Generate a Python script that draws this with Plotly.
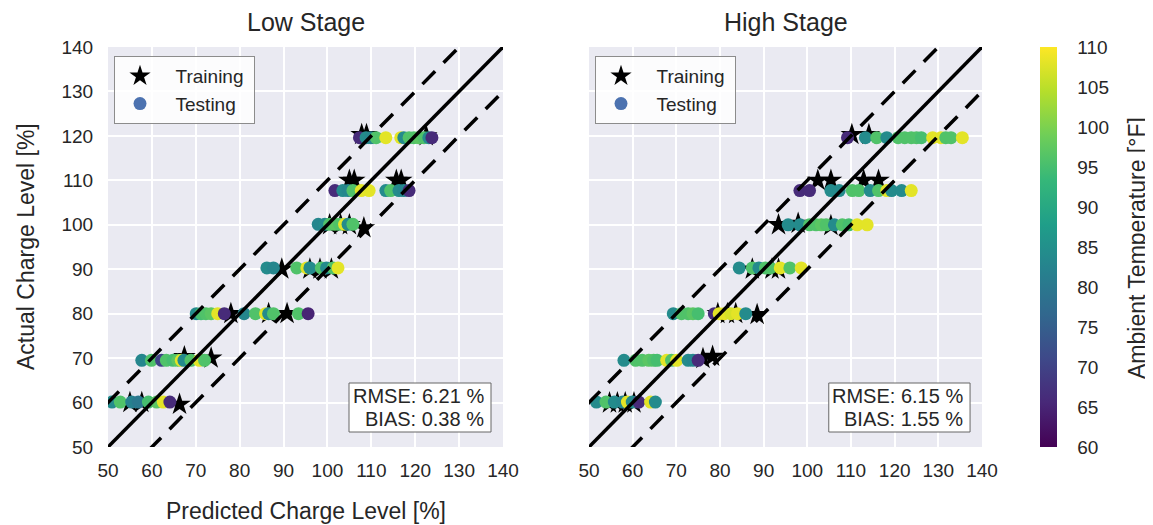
import plotly.graph_objects as go

# ---------------- data ----------------
# Low Stage - training (stars)
lo_train_x = [55.0, 57.7, 66.3, 67.4, 73.5, 78.0, 86.6, 90.8, 89.6, 96.0, 98.3, 100.9,
              100.5, 103.0, 105.0, 108.3, 105.0, 106.1, 115.7, 116.8, 107.8, 108.9, 122.5]
lo_train_y = [60.0, 60.0, 59.6, 70.3, 70.0, 80.0, 80.0, 80.0, 90.0, 90.0, 90.0, 90.0,
              100.0, 100.0, 100.0, 99.3, 110.0, 110.0, 110.0, 110.0, 120.3, 120.3, 120.0]

# Low Stage - testing (circles)
lo_test_x = [50.9, 52.8, 55.4, 56.9, 59.2, 61.1, 62.6, 64.1,
             57.7, 59.9, 62.2, 63.3, 64.8, 65.9, 66.7, 67.3, 68.9, 70.8, 72.0,
             70.1, 71.2, 72.3, 73.5, 75.0, 76.5, 81.0, 83.6, 85.9, 86.6, 87.7, 93.4, 95.6,
             86.2, 87.7, 93.0, 95.3, 96.0, 98.6, 99.8, 101.3, 102.4,
             97.9, 99.4, 100.5, 101.7, 102.8, 103.9, 104.7, 105.8,
             101.7, 103.5, 104.7, 105.8, 107.7, 109.5, 113.3, 114.4, 116.3, 117.4, 118.6,
             107.3, 108.8, 109.9, 111.1, 113.3, 116.7, 117.4, 118.6, 119.7, 120.8, 122.0, 123.1, 123.8]
lo_test_y = [60.1] * 8 + [69.5] * 11 + [80.0] * 13 + [90.3] * 9 + [100.1] * 8 + [107.7] * 11 + [119.6] * 13
lo_test_t = [84, 96, 82, 80, 95, 97, 108, 66,
             83, 96, 70, 96, 95, 97, 108, 84, 96, 108, 96,
             84, 95, 96, 97, 108, 66, 83, 96, 108, 84, 96, 96, 65,
             84, 83, 96, 108, 84, 96, 84, 96, 108,
             83, 84, 96, 97, 96, 108, 84, 96,
             66, 84, 83, 96, 108, 108, 84, 96, 84, 83, 66,
             66, 84, 83, 96, 108, 108, 84, 96, 96, 97, 96, 84, 66]

# High Stage - training (stars)
hi_train_x = [54.7, 56.5, 58.3, 60.3, 76.1, 78.3, 79.5, 81.7, 83.6, 88.5,
              87.4, 91.9, 93.4, 93.4, 97.9, 105.4, 102.4, 105.4, 112.9, 116.3, 110.2, 114.1]
hi_train_y = [59.9, 59.9, 59.9, 59.9, 69.9, 70.4, 80.0, 80.0, 80.0, 79.8,
              90.0, 90.0, 90.0, 100.0, 100.3, 99.8, 110.0, 110.0, 110.0, 110.0, 120.3, 120.3]

# High Stage - testing (circles)
hi_test_x = [51.7, 53.9, 55.8, 57.7, 58.8, 59.9, 61.4, 64.1, 65.2,
             58.0, 60.7, 62.2, 63.7, 64.8, 65.6, 67.8, 68.9, 70.1, 72.7, 73.8, 75.0,
             69.3, 71.2, 72.7, 73.8, 75.0, 78.7, 79.8, 81.0, 82.5, 84.0, 85.9,
             84.4, 87.4, 88.9, 90.4, 91.5, 93.8, 96.0, 98.6,
             95.6, 98.3, 100.5, 102.0, 103.2, 104.3, 106.2, 108.0, 109.5, 111.4, 113.7,
             98.3, 100.5, 105.4, 107.3, 110.3, 111.8, 114.4, 116.3, 118.2, 119.3, 121.6, 123.8,
             109.2, 113.3, 115.9, 118.2, 120.8, 122.3, 123.8, 125.0, 126.1, 128.7, 130.6, 131.7, 132.9, 135.5]
hi_test_y = [60.1] * 9 + [69.5] * 12 + [80.0] * 11 + [90.3] * 8 + [100.0] * 11 + [107.7] * 12 + [119.6] * 14
hi_test_t = [84, 96, 84, 83, 108, 84, 66, 108, 84,
             84, 96, 96, 97, 96, 95, 108, 96, 108, 84, 83, 66,
             84, 96, 96, 97, 95, 66, 108, 108, 107, 108, 84,
             84, 96, 84, 96, 96, 108, 96, 108,
             84, 84, 96, 96, 97, 96, 84, 96, 95, 108, 108,
             66, 66, 84, 84, 96, 96, 84, 96, 108, 84, 84, 108,
             66, 84, 96, 84, 96, 96, 96, 96, 95, 108, 108, 96, 96, 108]

ref_x = [40, 150]
band = 10
axis_range = [50, 140]
tick_vals = [50, 60, 70, 80, 90, 100, 110, 120, 130, 140]
cbar_ticks = [60, 65, 70, 75, 80, 85, 90, 95, 100, 105, 110]
temp_min, temp_max = 60, 110

stats = {"Low Stage": ("6.21", "0.38"), "High Stage": ("6.15", "1.55")}

# ---------------- figure ----------------
OFF = 8  # page body margin
W, H = 1153 - OFF, 525 - OFF
FONT = "Liberation Sans, Arial, sans-serif"
TXT = "#262626"
NB = "\u00a0"

def px_x(p):
    return (p - OFF) / W

def px_y(p):
    return 1 - (p - OFF) / H

fig = go.Figure()

panels = [
    ("Low Stage", "x", "y", "legend", lo_train_x, lo_train_y, lo_test_x, lo_test_y, lo_test_t, True),
    ("High Stage", "x2", "y2", "legend2", hi_train_x, hi_train_y, hi_test_x, hi_test_y, hi_test_t, False),
]

for name, xa, ya, lg, trx, try_, tex, tey, tet, scale in panels:
    fig.add_trace(go.Scatter(
        x=trx, y=try_, mode="markers", name=NB * 2 + "Training" + NB, xaxis=xa, yaxis=ya, legend=lg,
        marker=dict(symbol="star", size=17, color="black", line=dict(width=0)),
    ))
    fig.add_trace(go.Scatter(
        x=tex, y=tey, mode="markers", name="Testing", xaxis=xa, yaxis=ya, showlegend=False,
        marker=dict(symbol="circle", size=13, color=tet, colorscale="Viridis",
                    cmin=temp_min, cmax=temp_max, line=dict(width=0),
                    showscale=scale,
                    colorbar=dict(
                        x=px_x(1040), xanchor="left", xpad=0, ypad=0,
                        y=px_y(247), yanchor="middle",
                        lenmode="pixels", len=400, thickness=17, outlinewidth=0,
                        tickvals=cbar_ticks, ticks="outside", ticklen=17,
                        tickcolor="rgba(0,0,0,0)",
                        tickfont=dict(family=FONT, size=19, color=TXT),
                    ) if scale else None),
    ))
    fig.add_trace(go.Scatter(
        x=[None], y=[None], mode="markers", name=NB * 2 + "Testing", xaxis=xa, yaxis=ya, legend=lg,
        marker=dict(symbol="circle", size=13, color="#4C72B0"),
    ))
    # reference lines
    fig.add_trace(go.Scatter(x=ref_x, y=ref_x, mode="lines", xaxis=xa, yaxis=ya,
                             showlegend=False, line=dict(color="black", width=3.5)))
    fig.add_trace(go.Scatter(x=ref_x, y=[v + band for v in ref_x], mode="lines", xaxis=xa, yaxis=ya,
                             showlegend=False, line=dict(color="black", width=3.5, dash="18px,12px")))
    fig.add_trace(go.Scatter(x=ref_x, y=[v - band for v in ref_x], mode="lines", xaxis=xa, yaxis=ya,
                             showlegend=False, line=dict(color="black", width=3.5, dash="18px,12px")))

axis_common = dict(range=axis_range, tickvals=tick_vals, showgrid=True, gridcolor="white",
                   gridwidth=2, zeroline=False, showline=False, automargin=False,
                   tickfont=dict(family=FONT, size=19, color=TXT),
                   ticks="outside", tickcolor="rgba(0,0,0,0)")

L0, L1 = 108, 503
R0, R1 = 589, 982
T0, B0 = 47, 447

legend_common = dict(xanchor="left", yanchor="top", y=px_y(56),
                     bgcolor="rgba(255,255,255,0.85)", bordercolor="#8c8c8c", borderwidth=1,
                     font=dict(family=FONT, size=19, color=TXT), tracegroupgap=0,
                     itemwidth=40)

fig.update_layout(
    width=W, height=H, template="none",
    margin=dict(l=0, r=0, t=0, b=0),
    paper_bgcolor="white", plot_bgcolor="#EAEAF2",
    font=dict(family=FONT, color=TXT),
    xaxis=dict(domain=[px_x(L0), px_x(L1)], anchor="y", ticklen=6, **axis_common),
    yaxis=dict(domain=[px_y(B0), px_y(T0)], anchor="x", ticklen=10, **axis_common),
    xaxis2=dict(domain=[px_x(R0), px_x(R1)], anchor="y2", ticklen=6, **axis_common),
    yaxis2=dict(domain=[px_y(B0), px_y(T0)], anchor="x2", ticklen=10, showticklabels=False,
                **{k: v for k, v in axis_common.items() if k != "tickfont"}),
    legend=dict(x=px_x(114), **legend_common),
    legend2=dict(x=px_x(114 + (R0 - L0)), **legend_common),
    showlegend=True,
)

annotations = []
shapes = []
PW = L1 - L0
PH = B0 - T0
for name, xa, ya in [("Low Stage", "x", "y"), ("High Stage", "x2", "y2")]:
    annotations.append(dict(text=name, xref=f"{xa} domain", x=0.5, yref="paper", y=px_y(22),
                            xanchor="center", yanchor="middle", showarrow=False,
                            font=dict(family=FONT, size=25, color=TXT)))
    rmse, bias = stats[name]
    shapes.append(dict(type="rect", xref=f"{xa} domain", yref=f"{ya} domain",
                       x0=(349 - L0) / PW, x1=(491 - L0) / PW,
                       y0=(B0 - 432) / PH, y1=(B0 - 383) / PH,
                       fillcolor="white", line=dict(color="#666666", width=1), layer="above"))
    for txt, cy in [(f"RMSE: {rmse} %", 396), (f"BIAS: {bias} %", 419)]:
        annotations.append(dict(text=txt, xref=f"{xa} domain", x=(486 - L0) / PW, xanchor="right",
                                yref=f"{ya} domain", y=(B0 - cy) / PH, yanchor="middle",
                                showarrow=False, font=dict(family=FONT, size=20, color=TXT)))
annotations.append(dict(text="Predicted Charge Level [%]", xref="x domain", x=0.5,
                        yref="paper", y=px_y(511), xanchor="center", yanchor="middle",
                        showarrow=False, font=dict(family=FONT, size=23, color=TXT)))
annotations.append(dict(text="Actual Charge Level [%]", xref="paper", x=px_x(26),
                        yref="paper", y=px_y(247), xanchor="center", yanchor="middle",
                        textangle=-90, showarrow=False, font=dict(family=FONT, size=23, color=TXT)))
annotations.append(dict(text="Ambient Temperature [°F]", xref="paper", x=px_x(1137),
                        yref="paper", y=px_y(248), xanchor="center", yanchor="middle",
                        textangle=-90, showarrow=False, font=dict(family=FONT, size=23, color=TXT)))
fig.update_layout(annotations=annotations, shapes=shapes)

fig.write_html("out.html")
